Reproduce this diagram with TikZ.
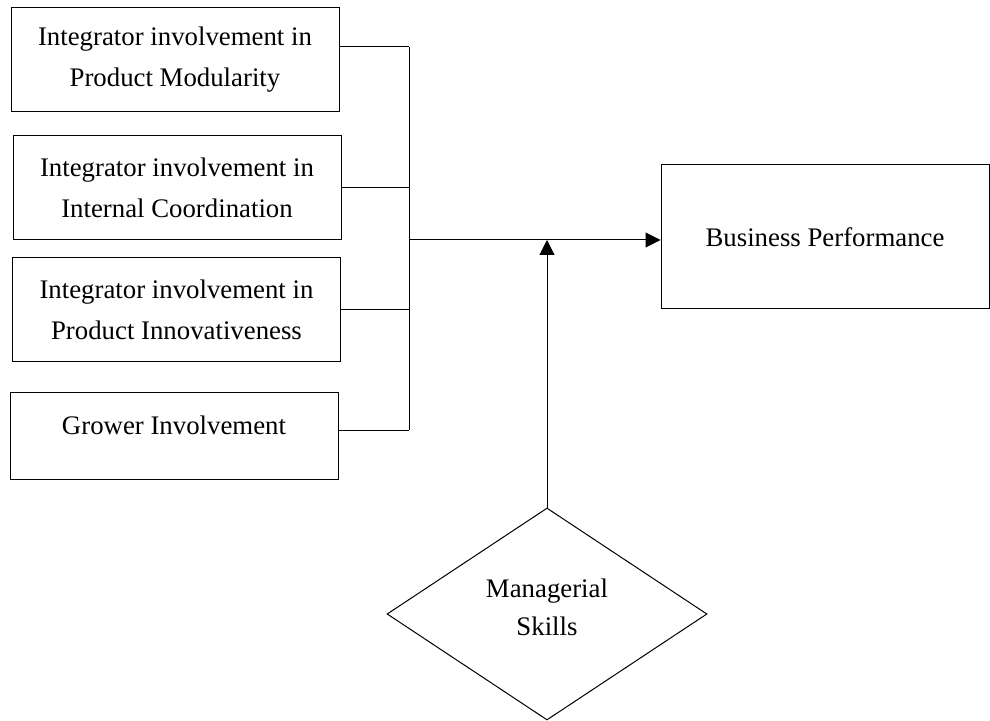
\documentclass[tikz,border=0pt]{standalone}
\usepackage{fontspec}
\setmainfont{Liberation Serif}
\usetikzlibrary{shapes.geometric,arrows.meta}

\begin{document}
\begin{tikzpicture}[x=0.5pt,y=-0.5pt,line width=0.5pt,
		box/.style={draw,shape=rectangle,align=center,inner sep=0pt,
			minimum width=164pt,minimum height=52pt,
			font=\fontsize{13.4pt}{20.5pt}\selectfont},
		arr/.style={-{Triangle[length=7.5pt,width=7.5pt]}}]
		\useasboundingbox (0,0) rectangle (990,721);

		\node[box] (mod) at (175,60) {Integrator involvement in\\Product Modularity};
		\node[box] (coord) at (177,188) {Integrator involvement in\\Internal Coordination};
		\node[box] (innov) at (176.5,310) {Integrator involvement in\\Product Innovativeness};
		\node[box,minimum height=43pt,text height=9pt,text depth=10.2pt] (grow) at (174,436) {Grower Involvement};
		\node[box,minimum height=72pt] (perf) at (825,237) {Business Performance};
		\node[draw,shape=diamond,inner sep=0pt,
			minimum width=160pt,minimum height=106pt] (skill) at (547,614) {};
		\node[align=center,font=\fontsize{13.4pt}{19pt}\selectfont] (skilltxt) at (547,607) {Managerial\\Skills};

		\coordinate (top) at (409,47);
		\coordinate (bot) at (409,430);
		\coordinate (j) at (409,240);

		\path [-] ([yshift=6.5pt]mod.east) edge (top);
		\path [-] (top) edge (bot);
		\path [-] ([yshift=3pt]grow.east) edge (bot);
		\path [-] (coord.east) edge (coord.east -| top);
		\path [-] (innov.east) edge (innov.east -| top);
		\path [arr] (j) edge (j -| perf.west);
		\path [arr] (skill.north) edge (skill.north |- j);
	\end{tikzpicture}
\end{document}
